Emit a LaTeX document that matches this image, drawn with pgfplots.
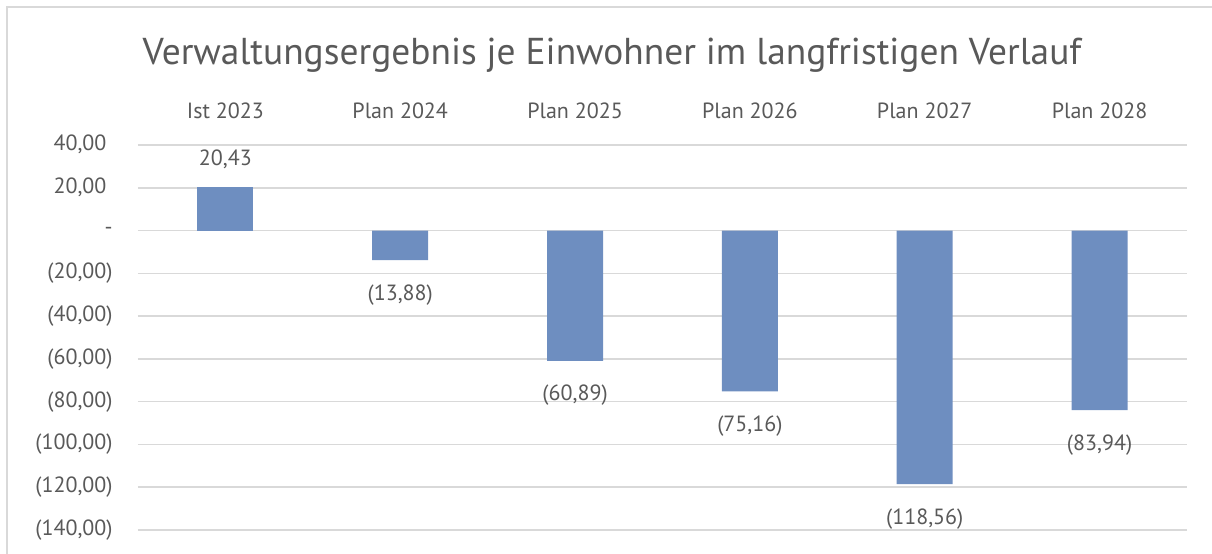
\documentclass[border=0pt]{standalone}
\usepackage{pgfplots}
\pgfplotsset{compat=1.18}
\usepackage{pgfplotstable}
\usepackage{fontspec}
\setmainfont{PT Sans}
\definecolor{barblue}{HTML}{6E8EC0}
\definecolor{txt}{HTML}{595959}
\definecolor{gridgray}{HTML}{D9D9D9}
\pgfplotstableread{
x y lab
0 20.43 {20,43}
}\pos
\pgfplotstableread{
x y lab
1 -13.88 {(13,88)}
2 -60.89 {(60,89)}
3 -75.16 {(75,16)}
4 -118.56 {(118,56)}
5 -83.94 {(83,94)}
}\neg
\begin{document}
\begin{tikzpicture}[x=1pt,y=1pt]
\path[use as bounding box] (-69,-11.5) rectangle (537,265);
\draw[gridgray, line width=0.75pt] (-65.5,-30) -- (-65.5,261.5) -- (560,261.5);
\begin{axis}[
  at={(0,0)}, anchor=south west,
  scale only axis, width=524.5pt, height=192.5pt,
  xmin=-0.5, xmax=5.5, ymin=-140, ymax=40,
  axis line style={draw=none},
  major tick length=0pt,
  ymajorgrids, xmajorgrids=false, grid style={gridgray, line width=0.75pt},
  ytick={-140,-120,-100,-80,-60,-40,-20,0,20,40},
  yticklabels={{(140,00)},{(120,00)},{(100,00)},{(80,00)},{(60,00)},{(40,00)},{(20,00)},{-\hspace{10pt}},{20,00\phantom{)}},{40,00\phantom{)}}},
  yticklabel style={font=\fontsize{11}{13}\selectfont, text=txt, anchor=east, inner sep=0pt, xshift=-12.5pt},
  xtick={0,1,2,3,4,5},
  xticklabels={Ist 2023, Plan 2024, Plan 2025, Plan 2026, Plan 2027, Plan 2028},
  xticklabel pos=upper,
  xticklabel style={font=\fontsize{11}{13}\selectfont, text=txt, anchor=base, inner sep=0pt, yshift=13pt},
  ybar, bar width=28pt, bar shift=0pt,
  point meta=explicit symbolic,
  nodes near coords,
  clip=false,
]
\addplot[fill=barblue, draw=none, nodes near coords style={font=\fontsize{11}{13}\selectfont, text=txt, anchor=south, inner sep=0pt, yshift=9pt}] table[x=x,y=y,meta=lab] {\pos};
\addplot[fill=barblue, draw=none, nodes near coords style={font=\fontsize{11}{13}\selectfont, text=txt, anchor=north, inner sep=0pt, yshift=-12pt}] table[x=x,y=y,meta=lab] {\neg};
\end{axis}
\node[text=txt, font=\fontsize{18.7}{23}\selectfont] at (237,237.5) {Verwaltungsergebnis je Einwohner im langfristigen Verlauf};
\end{tikzpicture}
\end{document}
